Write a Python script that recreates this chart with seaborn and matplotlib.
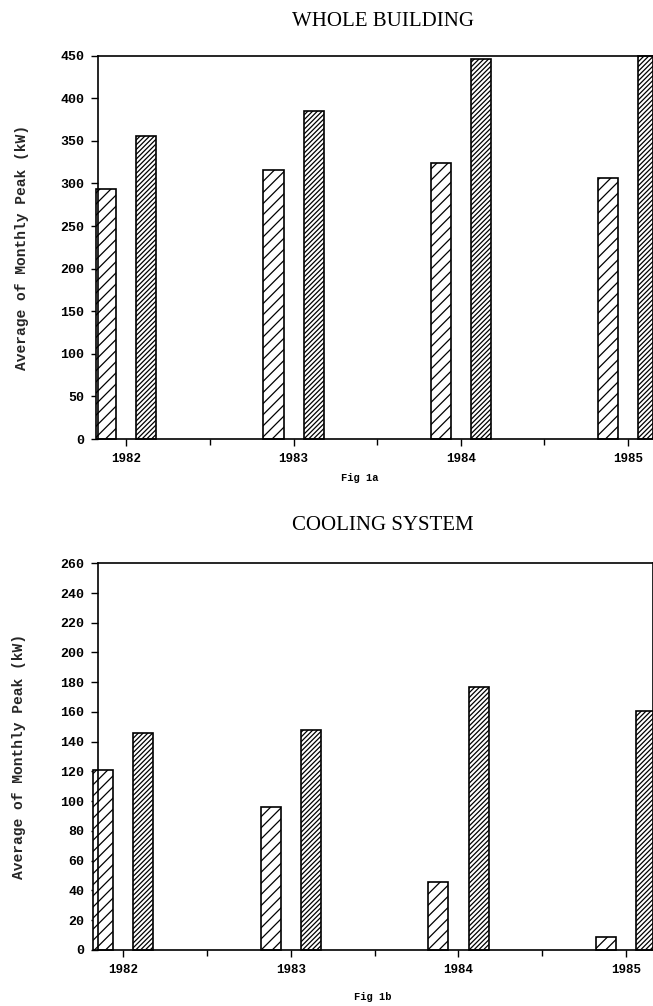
import numpy as np
import pandas as pd
import seaborn as sns
import matplotlib
matplotlib.use("Agg")
import matplotlib.pyplot as plt
from matplotlib.ticker import FixedLocator

# valeurs
years = ["1982", "1983", "1984", "1985"]
whole_a = [294, 316, 324, 307]
whole_b = [356, 385, 446, 450]
cool_a = [121, 96, 46, 9]
cool_b = [146, 148, 177, 161]
whole_ticks = [0, 50, 100, 150, 200, 250, 300, 350, 400, 450]
cool_ticks = list(range(0, 261, 20))

sns.set_style("ticks")
plt.rcParams["font.family"] = ["Liberation Serif", "DejaVu Serif"]
plt.rcParams["hatch.linewidth"] = 0.9
plt.rcParams["text.color"] = "black"
plt.rcParams["axes.edgecolor"] = "black"
plt.rcParams["xtick.color"] = "black"
plt.rcParams["ytick.color"] = "black"

MONO = ["Liberation Mono", "DejaVu Sans Mono"]

fig = plt.figure(figsize=(6.53, 10.06), dpi=100)
ax1 = fig.add_axes([0.150, 0.5636, 0.85, 0.3810])
ax2 = fig.add_axes([0.150, 0.0557, 0.85, 0.3844])


def draw(ax, a, b, ticks, xlim, lab_x):
    df = pd.DataFrame({
        "year": years * 2,
        "kw": a + b,
        "serie": ["a"] * len(years) + ["b"] * len(years),
    })
    sns.barplot(data=df, x="year", y="kw", hue="serie", width=0.48, gap=0.5,
                palette=["white", "white"], edgecolor="black", linewidth=1.2,
                legend=False, ax=ax)
    n = len(years)
    for i, p in enumerate(ax.patches):
        p.set_hatch("///" if i < n else "///////")
        p.set_clip_on(False)
    ax.set_ylim(0, ticks[-1])
    ax.set_xlim(*xlim)
    ax.set_yticks(ticks)
    ax.set_yticklabels([str(t) for t in ticks], fontweight="bold", fontsize=9.5, family=MONO)
    ax.set_xticks(range(n))
    ax.set_xticklabels(years, fontweight="bold", fontsize=9, family=MONO)
    ax.xaxis.set_minor_locator(FixedLocator([0.5, 1.5, 2.5]))
    ax.tick_params(axis="both", which="major", direction="out", length=5, width=1, pad=5)
    ax.tick_params(axis="x", which="minor", direction="out", length=4, width=1)
    ax.set_xlabel("")
    ax.set_ylabel("Average of Monthly Peak (kW)", fontweight="bold", fontsize=10.5, family=MONO)
    ax.yaxis.set_label_coords(lab_x, 0.5)
    for s in ax.spines.values():
        s.set_linewidth(1.2)


draw(ax1, whole_a, whole_b, whole_ticks, (-0.17, 3.15), -0.124)
draw(ax2, cool_a, cool_b, cool_ticks, (-0.15, 3.16), -0.13)

fig.text(383 / 653, 1 - 22 / 1006, "WHOLE BUILDING", ha="center", va="center", fontsize=15)
fig.text(383 / 653, 1 - 526 / 1006, "COOLING SYSTEM", ha="center", va="center", fontsize=15)
fig.text(360 / 653, 1 - 478 / 1006, "Fig 1a", ha="center", va="center", fontsize=7.5,
         fontweight="bold", family=MONO)
fig.text(373 / 653, 1 - 997 / 1006, "Fig 1b", ha="center", va="center", fontsize=7.5,
         fontweight="bold", family=MONO)

fig.savefig("out.png", dpi=100, facecolor="white")
